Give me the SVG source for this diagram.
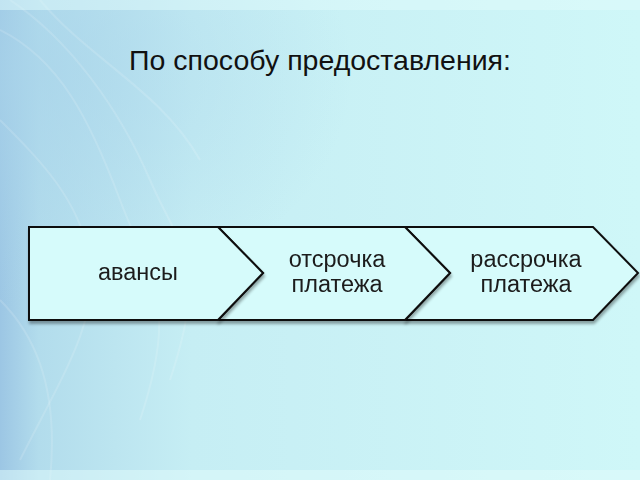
<svg xmlns="http://www.w3.org/2000/svg" width="640" height="480" viewBox="0 0 640 480">
<defs>
<linearGradient id="bg" x1="0" y1="0" x2="1" y2="0">
<stop offset="0" stop-color="#9cc6e4"/>
<stop offset="0.06" stop-color="#b2dcec"/>
<stop offset="0.3" stop-color="#c6eef4"/>
<stop offset="1" stop-color="#cff7f8"/>
</linearGradient>
<radialGradient id="glow" cx="0.05" cy="0.15" r="0.5">
<stop offset="0" stop-color="#a9d4ea" stop-opacity="0.7"/>
<stop offset="1" stop-color="#a9d4ea" stop-opacity="0"/>
</radialGradient>
<filter id="sh" x="-5%" y="-5%" width="115%" height="120%">
<feGaussianBlur in="SourceAlpha" stdDeviation="1.5"/>
<feOffset dx="1" dy="3" result="b"/>
<feComponentTransfer><feFuncA type="linear" slope="0.35"/></feComponentTransfer>
<feMerge><feMergeNode/><feMergeNode in="SourceGraphic"/></feMerge>
</filter>
</defs>
<style>
.shape{fill:#d6fbfb;stroke:#111;stroke-width:2;stroke-linejoin:miter}
.lbl{font-family:"Liberation Sans",Arial,sans-serif;font-size:23.5px;fill:#1a1a1a;text-anchor:middle}
.title{font-family:"Liberation Sans",Arial,sans-serif;font-size:28.5px;fill:#111;text-anchor:middle}
.wave{fill:none;stroke:#ffffff;stroke-opacity:0.14;stroke-width:2}
</style>
<rect width="640" height="480" fill="url(#bg)"/>
<rect width="640" height="480" fill="url(#glow)"/>
<g id="bgwaves">
<path class="wave" d="M0,30 C60,60 90,120 120,200 S180,300 140,420"/>
<path class="wave" d="M10,0 C70,40 120,110 150,180 S210,260 170,380"/>
<path class="wave" d="M0,120 C40,160 80,200 90,260 S60,380 20,460"/>
<path class="wave" d="M40,0 C90,60 160,90 200,160"/>
<path class="wave" d="M0,300 C30,330 60,380 50,480"/>
</g>
<rect x="0" y="0" width="640" height="10" fill="#e2fbfc" opacity="0.5"/>
<rect x="0" y="470" width="640" height="10" fill="#e2fbfc" opacity="0.5"/>
<text class="title" x="320" y="70">По способу предоставления:</text>
<g id="connectors"></g>
<g id="n3" filter="url(#sh)">
<path class="shape" d="M405,227 L593,227 L638,273 L593,320 L405,320 L450,273 Z"/>
<text class="lbl" x="526" y="267">рассрочка</text>
<text class="lbl" x="526" y="292">платежа</text>
</g>
<g id="n2" filter="url(#sh)">
<path class="shape" d="M218,227 L405,227 L450,273 L405,320 L218,320 L263,273 Z"/>
<text class="lbl" x="337" y="267">отсрочка</text>
<text class="lbl" x="337" y="292">платежа</text>
</g>
<g id="n1" filter="url(#sh)">
<path class="shape" d="M29,227 L218,227 L263,273 L218,320 L29,320 Z"/>
<text class="lbl" x="138" y="280">авансы</text>
</g>
</svg>
